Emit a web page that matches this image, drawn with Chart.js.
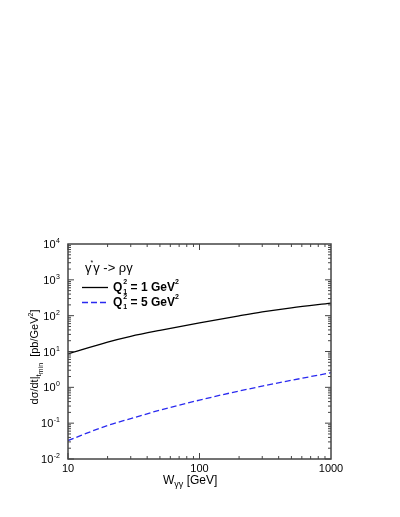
<!DOCTYPE html>
<html>
<head>
<meta charset="utf-8">
<script src="https://cdn.jsdelivr.net/npm/chart.js@4/dist/chart.umd.min.js"></script>
<style>
  html, body { margin: 0; padding: 0; background: #fff; }
</style>
</head>
<body>
<canvas id="mychart" width="400" height="517"></canvas>
<script>
// W_gamma-gamma in GeV
const wValues = [10, 20, 30, 50, 100, 200, 300, 500, 1000];
// dsigma/dt at t_min in pb/GeV^2
const q1Values = [8.6, 18.4, 26.6, 39, 63, 99, 127, 166, 225];
const q5Values = [0.0327, 0.0865, 0.134, 0.231, 0.44, 0.79, 1.08, 1.57, 2.56];
const xTicks = [10, 100, 1000];
const yTicks = [0.01, 0.1, 1, 10, 100, 1000, 10000];
const yExponents = ["-2", "-1", "0", "1", "2", "3", "4"];

const FONT = "'Liberation Sans', Arial, Helvetica, sans-serif";

// draw runs of text on one baseline, parts: {t, size, dy, dx, bold, stay}
function runsWidth(ctx, parts) {
  let w = 0;
  parts.forEach(p => {
    ctx.font = (p.bold ? "bold " : "") + p.size + "px " + FONT;
    if (!p.stay) w += ctx.measureText(p.t).width;
  });
  return w;
}
function drawRuns(ctx, parts, x, y) {
  let cx = x;
  parts.forEach(p => {
    ctx.font = (p.bold ? "bold " : "") + p.size + "px " + FONT;
    ctx.fillText(p.t, cx + (p.dx || 0), y + (p.dy || 0));
    if (!p.stay) cx += ctx.measureText(p.t).width + (p.dx || 0);
  });
}

const decor = {
  id: 'decor',
  afterDatasetsDraw(chart) {
    const ctx = chart.ctx;
    const a = chart.chartArea;
    const xs = chart.scales.x, ys = chart.scales.y;
    ctx.save();
    ctx.textAlign = "left";
    ctx.textBaseline = "alphabetic";
    ctx.fillStyle = "#000";

    // frame
    ctx.strokeStyle = "#444";
    ctx.lineWidth = 1.5;
    ctx.strokeRect(a.left, a.top, a.right - a.left, a.bottom - a.top);

    // inward ticks
    ctx.lineWidth = 1;
    ctx.beginPath();
    for (let d = 10; d < 1000; d *= 10) {
      for (let m = 1; m < 10; m++) {
        const px = xs.getPixelForValue(d * m);
        const len = m === 1 ? 6 : 3;
        ctx.moveTo(px, a.bottom); ctx.lineTo(px, a.bottom - len);
        ctx.moveTo(px, a.top); ctx.lineTo(px, a.top + len);
      }
    }
    for (let d = 0.01; d < 10000; d *= 10) {
      for (let m = 1; m < 10; m++) {
        const py = ys.getPixelForValue(d * m);
        const len = m === 1 ? 6 : 3;
        ctx.moveTo(a.left, py); ctx.lineTo(a.left + len, py);
        ctx.moveTo(a.right, py); ctx.lineTo(a.right - len, py);
      }
    }
    ctx.stroke();

    // y tick labels 10^n
    yTicks.forEach((v, i) => {
      const py = ys.getPixelForValue(v);
      ctx.font = "7px " + FONT;
      const sw = ctx.measureText(yExponents[i]).width;
      const right = a.left - 8;
      ctx.font = "11px " + FONT;
      const bw = ctx.measureText("10").width;
      ctx.fillText("10", right - sw - bw - 0.5, py + 4);
      ctx.font = "7px " + FONT;
      ctx.fillText(yExponents[i], right - sw, py - 1);
    });

    // x axis title
    drawRuns(ctx, [
      { t: "W", size: 12 },
      { t: "γγ", size: 9, dy: 3 },
      { t: " [GeV]", size: 12 }
    ], 163, 484);

    // y axis title
    const yParts = [
      { t: "dσ/dt|", size: 11 },
      { t: "t", size: 8, dy: 3 },
      { t: "min", size: 7, dy: 5 },
      { t: "  [pb/GeV", size: 11 },
      { t: "2", size: 7, dy: -5 },
      { t: "]", size: 11 }
    ];
    ctx.save();
    ctx.translate(38, 357);
    ctx.rotate(-Math.PI / 2);
    drawRuns(ctx, yParts, -runsWidth(ctx, yParts) / 2, 0);
    ctx.restore();

    // legend
    drawRuns(ctx, [
      { t: "γ", size: 13 },
      { t: "*", size: 7, dy: -7, dx: -1 },
      { t: "γ -> ργ", size: 13 }
    ], 85, 272);

    const entries = [
      { label: "1", ds: chart.data.datasets[0], y: 287.5 },
      { label: "5", ds: chart.data.datasets[1], y: 302.5 }
    ];
    entries.forEach(e => {
      ctx.strokeStyle = e.ds.borderColor;
      ctx.lineWidth = e.ds.borderWidth;
      ctx.setLineDash(e.ds.borderDash || []);
      ctx.beginPath();
      ctx.moveTo(82, e.y); ctx.lineTo(108, e.y);
      ctx.stroke();
      ctx.setLineDash([]);
      drawRuns(ctx, [
        { t: "Q", size: 12, bold: true },
        { t: "1", size: 7, dy: 3, dx: 1, bold: true, stay: true },
        { t: "2", size: 7, dy: -7, dx: 1, bold: true },
        { t: " = " + e.label + " GeV", size: 12, bold: true },
        { t: "2", size: 7, dy: -7, bold: true }
      ], 113, e.y + 3.5);
    });
    ctx.restore();
  }
};

new Chart(document.getElementById("mychart"), {
  type: 'line',
  data: {
    datasets: [{
      label: "Q1^2 = 1 GeV^2",
      data: wValues.map((w, i) => ({ x: w, y: q1Values[i] })),
      borderColor: "#000000",
      borderWidth: 1.3,
      pointRadius: 0,
      cubicInterpolationMode: 'monotone',
      fill: false
    }, {
      label: "Q1^2 = 5 GeV^2",
      data: wValues.map((w, i) => ({ x: w, y: q5Values[i] })),
      borderColor: "#2a2af0",
      borderWidth: 1.3,
      borderDash: [6, 3],
      pointRadius: 0,
      cubicInterpolationMode: 'monotone',
      fill: false
    }]
  },
  options: {
    responsive: false,
    animation: false,
    devicePixelRatio: 1,
    layout: { padding: { left: 0, top: 244, right: 69, bottom: 0 } },
    plugins: {
      legend: { display: false },
      tooltip: { enabled: false }
    },
    scales: {
      x: {
        type: 'logarithmic',
        min: 10,
        max: 1000,
        afterBuildTicks: s => { s.ticks = xTicks.map(v => ({ value: v })); },
        afterFit: s => { s.height = 58; },
        ticks: {
          callback: v => String(v),
          color: "#000",
          font: { family: FONT, size: 11 },
          maxRotation: 0,
          autoSkip: false,
          padding: 3
        },
        grid: { display: false, drawTicks: false },
        border: { display: false }
      },
      y: {
        type: 'logarithmic',
        min: 0.01,
        max: 10000,
        afterBuildTicks: s => { s.ticks = yTicks.map(v => ({ value: v })); },
        afterFit: s => { s.width = 68; },
        ticks: { display: false },
        grid: { display: false, drawTicks: false },
        border: { display: false }
      }
    }
  },
  plugins: [decor]
});
</script>
</body>
</html>
